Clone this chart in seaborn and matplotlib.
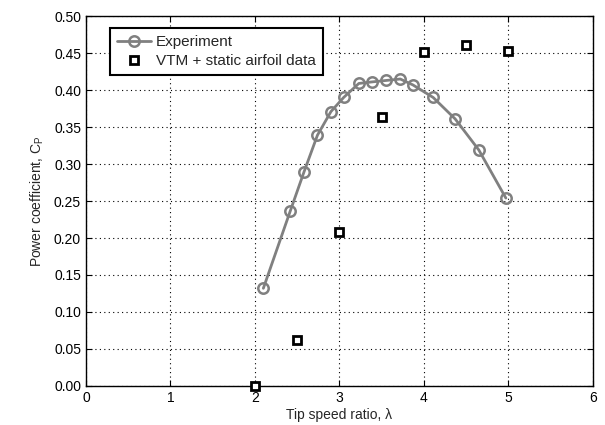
import matplotlib
matplotlib.use("Agg")
import matplotlib.pyplot as plt
import seaborn as sns
import pandas as pd

exp_tsr = [2.10, 2.42, 2.58, 2.74, 2.90, 3.05, 3.23, 3.38, 3.55, 3.72, 3.87, 4.11, 4.37, 4.65, 4.97]
exp_cp = [0.132, 0.237, 0.289, 0.339, 0.371, 0.390, 0.409, 0.411, 0.413, 0.415, 0.407, 0.390, 0.361, 0.319, 0.254]
vtm_tsr = [2.0, 2.5, 3.0, 3.5, 4.0, 4.5, 5.0]
vtm_cp = [0.0, 0.062, 0.208, 0.363, 0.452, 0.461, 0.453]

sns.set_style("white")
plt.rcParams['font.family'] = ['Liberation Sans', 'DejaVu Sans']

fig = plt.figure(figsize=(6.05, 4.25), dpi=100)
ax = fig.add_axes([0.142, 0.092, 0.838, 0.870])

exp_df = pd.DataFrame({"tsr": exp_tsr, "cp": exp_cp})
vtm_df = pd.DataFrame({"tsr": vtm_tsr, "cp": vtm_cp})

sns.lineplot(data=exp_df, x="tsr", y="cp", ax=ax, color="#808080", linewidth=2,
             marker="o", markersize=7.5, markerfacecolor="none", markeredgecolor="#808080",
             markeredgewidth=1.8, label="Experiment", sort=False, clip_on=False, zorder=3)
ax.plot(vtm_df["tsr"], vtm_df["cp"], linestyle="none", marker="s", markersize=6,
        markerfacecolor="white", markeredgecolor="black", markeredgewidth=2,
        label="VTM + static airfoil data", clip_on=False, zorder=4)

ax.set_xlim(0, 6)
ax.set_ylim(0, 0.5)
ax.set_xticks(range(0, 7))
ax.set_yticks([i * 0.05 for i in range(11)])
ax.set_yticklabels([f"{i*0.05:.2f}" for i in range(11)])
ax.grid(True, linestyle=(0, (1, 3)), color="black", linewidth=0.8)
ax.tick_params(direction="in", length=4, width=0.8, labelsize=10, colors="black",
               top=True, right=True, bottom=True, left=True)
for s in ax.spines.values():
    s.set_color("black")
    s.set_linewidth(1)

ax.set_xlabel("Tip speed ratio, λ", fontsize=10, labelpad=2)
ax.set_ylabel("Power coefficient, C$_\\mathregular{P}$", fontsize=10, labelpad=6)

leg = ax.legend(loc="upper left", bbox_to_anchor=(0.048, 0.968), fontsize=11, frameon=True,
                fancybox=False, edgecolor="black", framealpha=1, borderpad=0.45,
                handlelength=2.2, handletextpad=0.35, labelspacing=0.35, borderaxespad=0)
leg.get_frame().set_linewidth(1.5)

fig.savefig("out.png", dpi=100)
